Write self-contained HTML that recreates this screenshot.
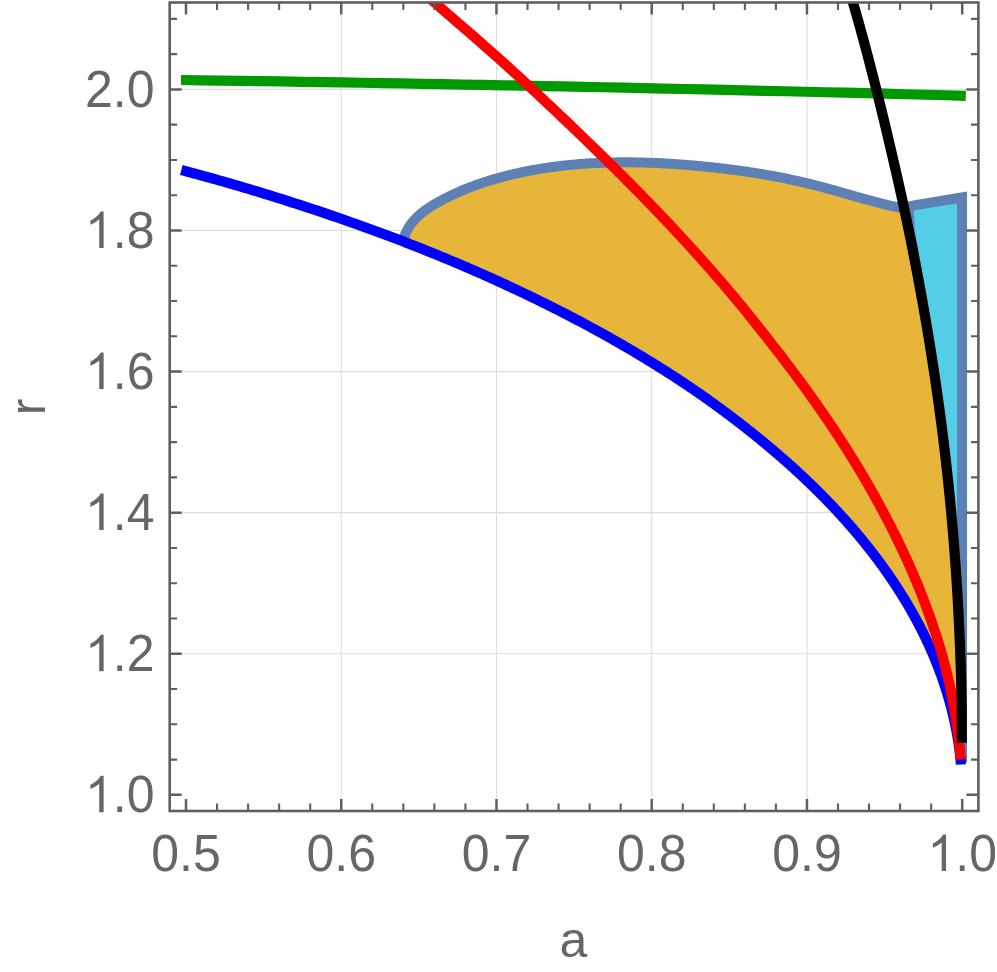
<!DOCTYPE html>
<html><head><meta charset="utf-8"><title>plot</title>
<style>
html,body{margin:0;padding:0;background:#fff}
body{width:997px;height:972px;position:relative;overflow:hidden;font-family:"Liberation Sans",sans-serif;color:#666}
svg text{font-family:"Liberation Sans",sans-serif}
</style></head><body>
<svg width="997" height="972" viewBox="0 0 997 972" style="position:absolute;left:0;top:0">
<defs><clipPath id="c"><rect x="169.7" y="2.5" width="808.7" height="808.5"/></clipPath></defs>
<rect width="997" height="972" fill="#fff"/>
<line x1="341.24" y1="2.5" x2="341.24" y2="811.0" stroke="#dedede" stroke-width="1.1"/>
<line x1="496.48" y1="2.5" x2="496.48" y2="811.0" stroke="#dedede" stroke-width="1.1"/>
<line x1="651.72" y1="2.5" x2="651.72" y2="811.0" stroke="#dedede" stroke-width="1.1"/>
<line x1="806.96" y1="2.5" x2="806.96" y2="811.0" stroke="#dedede" stroke-width="1.1"/>
<line x1="169.7" y1="653.76" x2="978.4" y2="653.76" stroke="#dedede" stroke-width="1.1"/>
<line x1="169.7" y1="512.67" x2="978.4" y2="512.67" stroke="#dedede" stroke-width="1.1"/>
<line x1="169.7" y1="371.58" x2="978.4" y2="371.58" stroke="#dedede" stroke-width="1.1"/>
<line x1="169.7" y1="230.49" x2="978.4" y2="230.49" stroke="#dedede" stroke-width="1.1"/>
<line x1="169.7" y1="89.40" x2="978.4" y2="89.40" stroke="#dedede" stroke-width="1.1"/>
<g clip-path="url(#c)" fill="none" stroke-linejoin="round">
<polygon points="404.72,235.62 405.20,234.37 405.70,233.14 406.24,231.94 406.82,230.77 407.42,229.61 408.05,228.49 408.71,227.38 409.40,226.30 410.12,225.24 410.86,224.20 411.63,223.18 412.42,222.19 413.24,221.21 414.08,220.25 414.94,219.31 415.82,218.39 416.72,217.49 417.63,216.60 418.57,215.73 419.52,214.88 420.49,214.04 421.48,213.22 422.48,212.41 423.50,211.62 424.52,210.84 425.57,210.07 426.62,209.32 427.69,208.58 428.77,207.85 429.86,207.14 430.95,206.43 432.06,205.74 433.18,205.06 434.30,204.38 435.43,203.72 436.57,203.07 437.71,202.42 438.85,201.78 440.00,201.15 441.16,200.52 442.31,199.91 443.47,199.30 444.63,198.69 445.80,198.10 446.97,197.51 448.14,196.92 449.31,196.34 450.49,195.77 451.66,195.21 452.84,194.65 454.03,194.10 455.21,193.55 456.40,193.01 457.59,192.48 458.78,191.95 459.98,191.43 461.18,190.91 462.38,190.40 463.58,189.90 464.78,189.40 465.99,188.91 467.20,188.43 468.41,187.95 469.62,187.47 470.84,187.01 472.05,186.54 473.27,186.09 474.49,185.64 475.71,185.19 476.94,184.75 478.17,184.32 479.39,183.89 480.62,183.46 481.85,183.05 483.09,182.63 484.32,182.22 485.56,181.82 486.80,181.42 488.04,181.03 489.28,180.65 490.52,180.26 491.77,179.89 493.01,179.51 494.26,179.15 495.51,178.79 496.76,178.43 498.01,178.08 499.26,177.73 500.52,177.39 501.77,177.05 503.03,176.71 504.29,176.39 505.55,176.06 506.81,175.74 508.07,175.43 509.33,175.12 510.59,174.81 511.85,174.51 513.12,174.21 514.38,173.92 515.65,173.63 516.92,173.34 518.19,173.06 519.45,172.78 520.72,172.51 521.99,172.24 523.27,171.98 524.54,171.72 525.81,171.46 527.08,171.21 528.36,170.96 529.63,170.72 530.90,170.48 532.18,170.24 533.46,170.01 534.73,169.78 536.01,169.55 537.29,169.33 538.57,169.11 539.85,168.90 541.13,168.69 542.41,168.48 543.69,168.28 544.97,168.08 546.25,167.89 547.53,167.70 548.82,167.51 550.10,167.32 551.38,167.14 552.67,166.97 553.95,166.79 555.24,166.62 556.53,166.46 557.81,166.30 559.10,166.14 560.39,165.98 561.68,165.83 562.97,165.68 564.25,165.54 565.54,165.40 566.83,165.26 568.12,165.12 569.42,164.99 570.71,164.87 572.00,164.74 573.29,164.62 574.58,164.50 575.88,164.39 577.17,164.28 578.46,164.17 579.76,164.06 581.05,163.96 582.35,163.87 583.64,163.77 584.94,163.68 586.23,163.59 587.53,163.51 588.83,163.42 590.12,163.34 591.42,163.27 592.72,163.20 594.01,163.13 595.31,163.06 596.61,163.00 597.91,162.93 599.21,162.88 600.51,162.82 601.80,162.77 603.10,162.72 604.40,162.68 605.70,162.63 607.00,162.59 608.30,162.56 609.60,162.52 610.90,162.49 612.21,162.46 613.51,162.43 614.81,162.41 616.11,162.39 617.41,162.37 618.71,162.36 620.01,162.35 621.32,162.34 622.62,162.33 623.92,162.33 625.22,162.33 626.52,162.33 627.83,162.33 629.13,162.34 630.43,162.35 631.73,162.36 633.04,162.37 634.34,162.39 635.64,162.41 636.95,162.43 638.25,162.45 639.55,162.48 640.85,162.51 642.16,162.54 643.46,162.57 644.76,162.61 646.07,162.65 647.37,162.69 648.67,162.73 649.97,162.78 651.28,162.82 652.58,162.88 653.88,162.93 655.18,162.98 656.49,163.04 657.79,163.10 659.09,163.16 660.39,163.22 661.70,163.29 663.00,163.36 664.30,163.43 665.60,163.50 666.90,163.57 668.21,163.65 669.51,163.73 670.81,163.81 672.11,163.89 673.41,163.97 674.71,164.06 676.01,164.15 677.31,164.24 678.61,164.33 679.91,164.42 681.21,164.52 682.51,164.62 683.81,164.71 685.11,164.82 686.41,164.92 687.71,165.02 689.01,165.13 690.30,165.24 691.60,165.35 692.90,165.46 694.20,165.58 695.49,165.69 696.79,165.81 698.09,165.93 699.38,166.05 700.68,166.17 701.97,166.29 703.27,166.42 704.56,166.55 705.86,166.67 707.15,166.80 708.45,166.94 709.74,167.07 711.03,167.21 712.32,167.34 713.62,167.48 714.91,167.62 716.20,167.76 717.49,167.91 718.78,168.06 720.07,168.20 721.36,168.35 722.65,168.50 723.94,168.66 725.23,168.81 726.52,168.97 727.81,169.13 729.10,169.29 730.39,169.45 731.67,169.62 732.96,169.78 734.25,169.95 735.53,170.12 736.82,170.30 738.11,170.47 739.39,170.65 740.68,170.83 741.96,171.01 743.25,171.19 744.53,171.37 745.81,171.56 747.10,171.75 748.38,171.94 749.66,172.13 750.94,172.33 752.23,172.53 753.51,172.73 754.79,172.93 756.07,173.13 757.35,173.34 758.63,173.55 759.91,173.76 761.19,173.97 762.47,174.19 763.74,174.40 765.02,174.62 766.30,174.85 767.58,175.07 768.85,175.30 770.13,175.53 771.40,175.76 772.68,175.99 773.96,176.23 775.23,176.46 776.50,176.71 777.78,176.95 779.05,177.19 780.33,177.44 781.60,177.69 782.87,177.95 784.14,178.20 785.41,178.46 786.69,178.72 787.96,178.98 789.23,179.25 790.50,179.52 791.77,179.79 793.03,180.06 794.30,180.34 795.57,180.62 796.84,180.90 798.11,181.18 799.37,181.47 800.64,181.76 801.91,182.05 803.17,182.34 804.44,182.64 805.70,182.94 806.97,183.24 808.23,183.55 809.50,183.85 810.76,184.16 812.02,184.48 813.28,184.79 814.55,185.11 815.81,185.43 817.07,185.76 818.33,186.09 819.59,186.42 820.85,186.75 822.11,187.08 823.37,187.42 824.63,187.76 825.89,188.10 827.14,188.44 828.40,188.79 829.66,189.13 830.92,189.48 832.17,189.83 833.43,190.18 834.69,190.53 835.94,190.88 837.20,191.24 838.45,191.59 839.71,191.95 840.96,192.31 842.22,192.66 843.47,193.02 844.73,193.38 845.98,193.73 847.24,194.09 848.49,194.45 849.75,194.81 851.00,195.17 852.25,195.52 853.51,195.88 854.76,196.24 856.01,196.59 857.27,196.95 858.52,197.30 859.77,197.66 861.03,198.01 862.28,198.36 863.53,198.71 864.79,199.06 866.04,199.41 867.29,199.75 868.55,200.10 869.80,200.44 871.06,200.78 872.31,201.12 873.56,201.45 874.82,201.79 876.07,202.12 877.32,202.45 878.58,202.78 879.83,203.10 881.09,203.42 882.34,203.74 883.60,204.05 884.85,204.37 886.11,204.68 887.36,204.98 888.62,205.28 889.87,205.58 891.13,205.88 892.39,206.17 893.64,206.46 894.90,206.74 896.16,207.02 903.00,208.00 908.05,209.89 908.35,211.33 908.60,212.77 908.81,214.21 908.97,215.65 909.11,217.08 909.22,218.52 909.32,219.95 909.40,221.39 909.48,222.82 909.56,224.25 909.65,225.68 909.75,227.11 909.87,228.54 910.02,229.97 910.21,231.39 910.42,232.82 910.65,234.25 910.88,235.67 911.12,237.09 911.35,238.51 911.60,239.94 911.84,241.36 912.08,242.78 912.33,244.19 912.57,245.61 912.82,247.03 913.06,248.44 913.30,249.86 913.54,251.27 913.77,252.68 914.00,254.10 914.23,255.51 914.45,256.92 914.68,258.33 914.91,259.73 915.14,261.14 915.38,262.55 915.62,263.95 915.86,265.36 916.10,266.76 916.34,268.16 916.59,269.56 916.83,270.96 917.08,272.36 917.34,273.76 917.60,275.16 917.87,276.55 918.13,277.95 918.39,279.34 918.65,280.74 918.91,282.13 919.17,283.52 919.43,284.91 919.68,286.30 919.94,287.69 920.19,289.08 920.45,290.47 920.70,291.85 920.95,293.24 921.21,294.62 921.46,296.00 921.71,297.39 921.96,298.77 922.20,300.15 922.45,301.53 922.70,302.91 922.94,304.28 923.19,305.66 923.43,307.03 923.67,308.41 923.91,309.78 924.15,311.16 924.39,312.53 924.63,313.90 924.87,315.27 925.11,316.64 925.35,318.00 925.58,319.37 925.81,320.74 926.05,322.10 926.28,323.47 926.51,324.83 926.74,326.19 926.97,327.55 927.20,328.91 927.43,330.27 927.66,331.63 927.89,332.99 928.11,334.35 928.34,335.70 928.56,337.06 928.78,338.41 929.01,339.76 929.23,341.11 929.45,342.46 929.67,343.81 929.89,345.16 930.10,346.51 930.32,347.86 930.54,349.20 930.75,350.55 930.97,351.89 931.18,353.24 931.39,354.58 931.60,355.92 931.81,357.26 932.02,358.60 932.23,359.94 932.44,361.28 932.65,362.61 932.86,363.95 933.06,365.28 933.27,366.62 933.47,367.95 933.67,369.28 933.87,370.61 934.08,371.94 934.28,373.27 934.48,374.60 934.68,375.93 934.87,377.25 935.07,378.58 935.27,379.90 935.46,381.22 935.66,382.55 935.85,383.87 936.04,385.19 936.23,386.51 936.43,387.83 936.62,389.14 936.80,390.46 936.99,391.78 937.18,393.09 937.37,394.40 937.55,395.72 937.74,397.03 937.92,398.34 938.11,399.65 938.29,400.96 938.47,402.26 938.65,403.57 938.83,404.88 939.01,406.18 939.19,407.49 939.37,408.79 939.54,410.09 939.72,411.39 939.90,412.69 940.07,413.99 940.24,415.29 940.42,416.59 940.59,417.88 940.76,419.18 940.93,420.47 941.10,421.77 941.27,423.06 941.43,424.35 941.60,425.64 941.77,426.93 941.93,428.22 942.10,429.51 942.26,430.79 942.42,432.08 942.59,433.36 942.75,434.65 942.91,435.93 943.07,437.21 943.22,438.49 943.38,439.77 943.54,441.05 943.70,442.33 943.85,443.61 944.01,444.88 944.16,446.16 944.31,447.43 944.47,448.70 944.62,449.98 944.77,451.25 944.92,452.52 945.07,453.79 945.21,455.05 945.36,456.32 945.51,457.59 945.65,458.85 945.80,460.12 945.94,461.38 946.09,462.64 946.23,463.90 946.37,465.16 946.51,466.42 946.65,467.68 946.79,468.94 946.93,470.19 947.07,471.45 947.21,472.70 947.34,473.95 947.48,475.21 947.61,476.46 947.75,477.71 947.88,478.96 948.01,480.20 948.15,481.45 948.28,482.70 948.41,483.94 948.54,485.19 948.66,486.43 948.79,487.67 948.92,488.91 949.05,490.15 949.17,491.39 949.30,492.63 949.42,493.87 949.54,495.10 949.67,496.34 949.79,497.57 949.91,498.80 950.03,500.03 950.15,501.26 950.27,502.49 950.39,503.72 950.50,504.95 950.62,506.18 950.74,507.40 950.85,508.62 950.97,509.85 951.08,511.07 951.19,512.29 951.31,513.51 951.42,514.73 951.53,515.95 951.64,517.16 951.75,518.38 951.86,519.59 951.97,520.81 952.07,522.02 952.18,523.23 952.29,524.44 952.39,525.65 952.50,526.86 952.60,528.07 952.71,529.27 952.81,530.48 952.91,531.68 953.01,532.88 953.11,534.08 953.21,535.28 953.31,536.48 953.41,537.68 953.51,538.88 953.61,540.07 953.70,541.27 953.80,542.46 953.89,543.65 953.99,544.84 954.08,546.03 954.18,547.22 954.27,548.41 954.36,549.59 954.45,550.78 954.54,551.96 954.63,553.14 954.72,554.32 954.81,555.50 954.90,556.68 954.99,557.86 955.07,559.04 955.16,560.21 955.24,561.38 955.33,562.56 955.41,563.73 955.50,564.90 955.58,566.07 955.66,567.23 955.74,568.40 955.82,569.56 955.90,570.73 955.98,571.89 956.06,573.05 956.14,574.21 956.22,575.37 956.30,576.52 956.37,577.68 956.45,578.83 956.52,579.98 956.60,581.13 956.67,582.28 956.74,583.43 956.82,584.58 956.89,585.72 956.96,586.86 957.03,588.01 957.10,589.15 957.17,590.29 957.24,591.42 957.31,592.56 957.37,593.69 957.44,594.82 957.51,595.96 957.57,597.08 957.64,598.21 957.70,599.34 957.77,600.46 957.83,601.58 957.89,602.71 957.96,603.82 958.02,604.94 958.08,606.06 958.14,607.17 958.20,608.28 958.26,609.39 958.32,610.50 958.38,611.61 958.43,612.71 958.49,613.81 958.55,614.91 958.61,616.01 958.66,617.11 958.72,618.20 958.77,619.30 958.83,620.39 958.88,621.47 958.93,622.56 958.99,623.64 959.04,624.72 959.09,625.80 959.14,626.88 959.19,627.95 959.24,629.03 959.29,630.10 959.34,631.16 959.39,632.23 959.44,633.29 959.48,634.35 959.53,635.40 959.58,636.46 959.62,637.51 959.67,638.56 959.71,639.60 959.76,640.65 959.80,641.69 959.84,642.72 959.89,643.76 959.93,644.79 959.97,645.82 960.01,646.84 960.05,647.86 960.09,648.88 960.13,649.89 960.17,650.90 960.21,651.91 960.24,652.91 960.28,653.91 960.32,654.91 960.35,655.90 960.39,656.89 960.42,657.87 960.46,658.85 960.49,659.83 960.53,660.80 960.56,661.77 960.59,662.73 960.62,663.69 960.66,664.64 960.69,665.59 960.72,666.53 960.75,667.47 960.78,668.40 960.80,669.33 960.83,670.25 960.86,671.17 960.89,672.08 960.91,672.98 960.94,673.88 960.97,674.78 960.99,675.66 961.01,676.54 961.04,677.42 961.06,678.29 961.09,679.15 961.11,680.00 961.13,680.85 961.15,681.68 961.17,682.52 961.19,683.34 961.21,684.16 961.23,684.96 961.25,685.76 961.27,686.55 961.29,687.34 961.31,688.11 961.33,688.88 961.34,689.63 961.36,690.38 961.38,691.11 961.39,691.84 961.41,692.56 961.42,693.26 961.44,693.96 961.45,694.64 961.46,695.32 961.48,695.98 961.49,696.63 961.50,697.27 961.51,697.90 961.52,698.52 961.54,699.13 961.55,699.72 961.56,700.30 961.57,700.86 961.58,701.42 961.59,701.96 961.60,702.49 961.60,703.00 961.61,703.50 961.62,703.99 961.63,704.46 961.64,704.92 961.64,705.37 961.65,705.80 961.66,706.21 961.66,706.61 961.67,707.00 961.68,707.37 961.68,707.73 961.69,708.07 961.69,708.40 961.70,708.72 961.70,709.01 961.71,709.30 961.71,709.57 961.71,709.82 961.72,710.06 961.72,710.29 961.72,710.50 961.73,710.70 961.73,710.89 961.73,711.06 961.73,711.22 961.74,711.36 961.74,711.50 961.74,711.62 961.74,711.73 961.74,711.82 961.74,711.91 961.75,711.98 961.75,712.05 961.75,712.10 961.75,712.15 961.75,712.18 961.75,712.21 961.75,712.23 961.75,712.25 961.75,712.26 961.75,712.26 961.75,712.26 961.75,742.80 961.50,760.00 960.90,764.50 960.72,761.43 960.70,761.20 960.67,760.95 960.65,760.69 960.62,760.42 960.59,760.12 960.56,759.82 960.53,759.50 960.50,759.17 960.46,758.82 960.42,758.46 960.39,758.08 960.34,757.69 960.30,757.29 960.26,756.87 960.21,756.44 960.16,756.00 960.11,755.54 960.06,755.07 960.00,754.59 959.94,754.10 959.89,753.60 959.82,753.08 959.76,752.56 959.69,752.02 959.63,751.47 959.56,750.91 959.48,750.34 959.41,749.76 959.33,749.17 959.25,748.57 959.17,747.96 959.08,747.35 959.00,746.72 958.91,746.08 958.82,745.44 958.72,744.79 958.63,744.13 958.53,743.46 958.42,742.78 958.32,742.10 958.21,741.40 958.10,740.70 957.99,740.00 957.88,739.28 957.76,738.56 957.64,737.84 957.51,737.10 957.39,736.36 957.26,735.61 957.13,734.86 956.99,734.10 956.86,733.34 956.72,732.57 956.58,731.79 956.43,731.01 956.28,730.22 956.13,729.43 955.98,728.63 955.82,727.83 955.66,727.02 955.49,726.21 955.33,725.39 955.16,724.57 954.99,723.74 954.81,722.91 954.63,722.08 954.45,721.24 954.27,720.39 954.08,719.54 953.89,718.69 953.69,717.83 953.50,716.97 953.29,716.11 953.09,715.24 952.88,714.36 952.67,713.49 952.46,712.61 952.24,711.72 952.02,710.83 951.80,709.94 951.57,709.05 951.34,708.15 951.11,707.25 950.87,706.34 950.63,705.44 950.39,704.52 950.14,703.61 949.89,702.69 949.63,701.77 949.38,700.85 949.11,699.92 948.85,698.99 948.58,698.06 948.31,697.12 948.03,696.18 947.75,695.24 947.47,694.30 947.19,693.35 946.90,692.40 946.60,691.45 946.30,690.49 946.00,689.53 945.70,688.57 945.39,687.61 945.08,686.65 944.76,685.68 944.44,684.71 944.12,683.73 943.79,682.76 943.46,681.78 943.13,680.80 942.79,679.82 942.45,678.84 942.10,677.85 941.75,676.86 941.40,675.87 941.04,674.87 940.68,673.88 940.31,672.88 939.94,671.88 939.57,670.88 939.19,669.87 938.81,668.87 938.42,667.86 938.03,666.85 937.64,665.84 937.24,664.82 936.84,663.81 936.44,662.79 936.03,661.77 935.61,660.75 935.19,659.72 934.77,658.70 934.35,657.67 933.92,656.64 933.48,655.61 933.04,654.57 932.60,653.54 932.15,652.50 931.70,651.46 931.25,650.42 930.79,649.38 930.32,648.34 929.85,647.29 929.38,646.25 928.90,645.20 928.42,644.15 927.94,643.10 927.45,642.04 926.95,640.99 926.46,639.93 925.95,638.87 925.44,637.81 924.93,636.75 924.42,635.69 923.90,634.63 923.37,633.56 922.84,632.49 922.31,631.42 921.77,630.35 921.23,629.28 920.68,628.21 920.13,627.14 919.57,626.06 919.01,624.98 918.45,623.91 917.88,622.83 917.30,621.74 916.72,620.66 916.14,619.58 915.55,618.49 914.96,617.41 914.36,616.32 913.76,615.23 913.15,614.14 912.54,613.05 911.93,611.96 911.31,610.86 910.68,609.77 910.05,608.67 909.41,607.57 908.78,606.48 908.13,605.38 907.48,604.28 906.83,603.17 906.17,602.07 905.51,600.97 904.84,599.86 904.16,598.75 903.49,597.65 902.80,596.54 902.12,595.43 901.42,594.32 900.73,593.21 900.02,592.09 899.32,590.98 898.61,589.86 897.89,588.75 897.17,587.63 896.44,586.51 895.71,585.40 894.97,584.28 894.23,583.16 893.48,582.03 892.73,580.91 891.98,579.79 891.21,578.66 890.45,577.54 889.68,576.41 888.90,575.28 888.12,574.16 887.33,573.03 886.54,571.90 885.74,570.77 884.94,569.64 884.13,568.50 883.32,567.37 882.50,566.24 881.68,565.10 880.85,563.97 880.02,562.83 879.18,561.69 878.34,560.55 877.49,559.42 876.64,558.28 875.78,557.14 874.91,556.00 874.04,554.85 873.17,553.71 872.29,552.57 871.40,551.42 870.51,550.28 869.62,549.14 868.72,547.99 867.81,546.84 866.90,545.70 865.98,544.55 865.06,543.40 864.13,542.25 863.20,541.10 862.26,539.95 861.31,538.80 860.37,537.65 859.41,536.50 858.45,535.34 857.49,534.19 856.51,533.04 855.54,531.88 854.56,530.73 853.57,529.57 852.58,528.42 851.58,527.26 850.57,526.10 849.56,524.95 848.55,523.79 847.53,522.63 846.50,521.47 845.47,520.31 844.43,519.15 843.39,517.99 842.34,516.83 841.29,515.67 840.23,514.51 839.16,513.35 838.09,512.18 837.02,511.02 835.94,509.86 834.85,508.69 833.75,507.53 832.66,506.37 831.55,505.20 830.44,504.04 829.33,502.87 828.20,501.71 827.08,500.54 825.94,499.37 824.80,498.21 823.66,497.04 822.51,495.87 821.35,494.70 820.19,493.54 819.02,492.37 817.85,491.20 816.67,490.03 815.49,488.86 814.29,487.69 813.10,486.52 811.89,485.35 810.69,484.18 809.47,483.01 808.25,481.84 807.03,480.67 805.79,479.50 804.56,478.33 803.31,477.16 802.06,475.99 800.81,474.82 799.55,473.65 798.28,472.47 797.00,471.30 795.72,470.13 794.44,468.96 793.15,467.79 791.85,466.61 790.55,465.44 789.24,464.27 787.92,463.10 786.60,461.92 785.27,460.75 783.94,459.58 782.60,458.41 781.25,457.23 779.90,456.06 778.55,454.89 777.18,453.71 775.81,452.54 774.44,451.37 773.05,450.19 771.66,449.01 770.27,447.84 768.87,446.66 767.46,445.48 766.05,444.31 764.63,443.13 763.21,441.95 761.77,440.77 760.34,439.59 758.89,438.41 757.44,437.23 755.99,436.05 754.52,434.87 753.05,433.69 751.58,432.51 750.10,431.33 748.61,430.14 747.12,428.96 745.62,427.78 744.11,426.60 742.60,425.42 741.08,424.23 739.55,423.05 738.02,421.87 736.48,420.69 734.94,419.50 733.39,418.32 731.83,417.14 730.27,415.96 728.70,414.78 727.12,413.59 725.54,412.41 723.95,411.23 722.35,410.05 720.75,408.87 719.14,407.69 717.53,406.51 715.90,405.33 714.28,404.15 712.64,402.97 711.00,401.79 709.35,400.61 707.70,399.44 706.04,398.26 704.37,397.08 702.70,395.91 701.02,394.73 699.33,393.56 697.64,392.39 695.94,391.22 694.23,390.04 692.52,388.87 690.80,387.70 689.08,386.54 687.34,385.37 685.61,384.20 683.86,383.04 682.11,381.87 680.35,380.71 678.58,379.55 676.81,378.39 675.03,377.23 673.25,376.07 671.45,374.91 669.66,373.75 667.85,372.59 666.04,371.43 664.22,370.28 662.39,369.12 660.56,367.97 658.72,366.81 656.87,365.66 655.02,364.50 653.16,363.35 651.30,362.20 649.42,361.05 647.54,359.90 645.66,358.75 643.76,357.60 641.86,356.45 639.96,355.30 638.04,354.16 636.12,353.01 634.20,351.86 632.26,350.72 630.32,349.58 628.37,348.43 626.42,347.29 624.45,346.15 622.49,345.01 620.51,343.87 618.53,342.73 616.54,341.59 614.54,340.45 612.54,339.32 610.53,338.18 608.51,337.04 606.49,335.91 604.46,334.78 602.42,333.64 600.37,332.51 598.32,331.38 596.26,330.25 594.20,329.12 592.12,328.00 590.04,326.87 587.96,325.74 585.86,324.62 583.76,323.49 581.65,322.37 579.54,321.24 577.42,320.12 575.29,319.00 573.15,317.88 571.01,316.76 568.86,315.65 566.70,314.53 564.54,313.41 562.36,312.30 560.18,311.18 558.00,310.07 555.80,308.96 553.60,307.85 551.40,306.74 549.18,305.63 546.96,304.52 544.73,303.41 542.49,302.30 540.25,301.20 538.00,300.09 535.74,298.99 533.48,297.89 531.21,296.79 528.93,295.69 526.64,294.59 524.35,293.49 522.04,292.39 519.74,291.30 517.42,290.20 515.10,289.11 512.77,288.02 510.43,286.92 508.08,285.83 505.73,284.75 503.37,283.66 501.00,282.57 498.63,281.49 496.25,280.40 493.86,279.32 491.46,278.24 489.06,277.16 486.65,276.08 484.23,275.00 481.80,273.93 479.37,272.85 476.93,271.78 474.48,270.71 472.03,269.64 469.56,268.57 467.09,267.50 464.62,266.44 462.13,265.37 459.64,264.31 457.14,263.25 454.63,262.19 452.12,261.13 449.59,260.08 447.06,259.02 444.53,257.97 441.98,256.92 439.43,255.87 436.87,254.82 434.30,253.78 431.73,252.74 429.14,251.69 426.55,250.65 423.96,249.61 421.35,248.58 418.74,247.54 416.12,246.51 413.49,245.47 410.85,244.44 408.21,243.42 405.56,242.39" fill="#e7b53a"/>
<polygon points="903.00,208.00 913.95,205.30 957.20,198.20 962.05,197.40 962.05,760.00 961.75,742.80 961.75,712.26 961.75,712.26 961.75,712.26 961.75,712.25 961.75,712.23 961.75,712.21 961.75,712.18 961.75,712.15 961.75,712.10 961.75,712.05 961.75,711.98 961.74,711.91 961.74,711.82 961.74,711.73 961.74,711.62 961.74,711.50 961.74,711.36 961.73,711.22 961.73,711.06 961.73,710.89 961.73,710.70 961.72,710.50 961.72,710.29 961.72,710.06 961.71,709.82 961.71,709.57 961.71,709.30 961.70,709.01 961.70,708.72 961.69,708.40 961.69,708.07 961.68,707.73 961.68,707.37 961.67,707.00 961.66,706.61 961.66,706.21 961.65,705.80 961.64,705.37 961.64,704.92 961.63,704.46 961.62,703.99 961.61,703.50 961.60,703.00 961.60,702.49 961.59,701.96 961.58,701.42 961.57,700.86 961.56,700.30 961.55,699.72 961.54,699.13 961.52,698.52 961.51,697.90 961.50,697.27 961.49,696.63 961.48,695.98 961.46,695.32 961.45,694.64 961.44,693.96 961.42,693.26 961.41,692.56 961.39,691.84 961.38,691.11 961.36,690.38 961.34,689.63 961.33,688.88 961.31,688.11 961.29,687.34 961.27,686.55 961.25,685.76 961.23,684.96 961.21,684.16 961.19,683.34 961.17,682.52 961.15,681.68 961.13,680.85 961.11,680.00 961.09,679.15 961.06,678.29 961.04,677.42 961.01,676.54 960.99,675.66 960.97,674.78 960.94,673.88 960.91,672.98 960.89,672.08 960.86,671.17 960.83,670.25 960.80,669.33 960.78,668.40 960.75,667.47 960.72,666.53 960.69,665.59 960.66,664.64 960.62,663.69 960.59,662.73 960.56,661.77 960.53,660.80 960.49,659.83 960.46,658.85 960.42,657.87 960.39,656.89 960.35,655.90 960.32,654.91 960.28,653.91 960.24,652.91 960.21,651.91 960.17,650.90 960.13,649.89 960.09,648.88 960.05,647.86 960.01,646.84 959.97,645.82 959.93,644.79 959.89,643.76 959.84,642.72 959.80,641.69 959.76,640.65 959.71,639.60 959.67,638.56 959.62,637.51 959.58,636.46 959.53,635.40 959.48,634.35 959.44,633.29 959.39,632.23 959.34,631.16 959.29,630.10 959.24,629.03 959.19,627.95 959.14,626.88 959.09,625.80 959.04,624.72 958.99,623.64 958.93,622.56 958.88,621.47 958.83,620.39 958.77,619.30 958.72,618.20 958.66,617.11 958.61,616.01 958.55,614.91 958.49,613.81 958.43,612.71 958.38,611.61 958.32,610.50 958.26,609.39 958.20,608.28 958.14,607.17 958.08,606.06 958.02,604.94 957.96,603.82 957.89,602.71 957.83,601.58 957.77,600.46 957.70,599.34 957.64,598.21 957.57,597.08 957.51,595.96 957.44,594.82 957.37,593.69 957.31,592.56 957.24,591.42 957.17,590.29 957.10,589.15 957.03,588.01 956.96,586.86 956.89,585.72 956.82,584.58 956.74,583.43 956.67,582.28 956.60,581.13 956.52,579.98 956.45,578.83 956.37,577.68 956.30,576.52 956.22,575.37 956.14,574.21 956.06,573.05 955.98,571.89 955.90,570.73 955.82,569.56 955.74,568.40 955.66,567.23 955.58,566.07 955.50,564.90 955.41,563.73 955.33,562.56 955.24,561.38 955.16,560.21 955.07,559.04 954.99,557.86 954.90,556.68 954.81,555.50 954.72,554.32 954.63,553.14 954.54,551.96 954.45,550.78 954.36,549.59 954.27,548.41 954.18,547.22 954.08,546.03 953.99,544.84 953.89,543.65 953.80,542.46 953.70,541.27 953.61,540.07 953.51,538.88 953.41,537.68 953.31,536.48 953.21,535.28 953.11,534.08 953.01,532.88 952.91,531.68 952.81,530.48 952.71,529.27 952.60,528.07 952.50,526.86 952.39,525.65 952.29,524.44 952.18,523.23 952.07,522.02 951.97,520.81 951.86,519.59 951.75,518.38 951.64,517.16 951.53,515.95 951.42,514.73 951.31,513.51 951.19,512.29 951.08,511.07 950.97,509.85 950.85,508.62 950.74,507.40 950.62,506.18 950.50,504.95 950.39,503.72 950.27,502.49 950.15,501.26 950.03,500.03 949.91,498.80 949.79,497.57 949.67,496.34 949.54,495.10 949.42,493.87 949.30,492.63 949.17,491.39 949.05,490.15 948.92,488.91 948.79,487.67 948.66,486.43 948.54,485.19 948.41,483.94 948.28,482.70 948.15,481.45 948.01,480.20 947.88,478.96 947.75,477.71 947.61,476.46 947.48,475.21 947.34,473.95 947.21,472.70 947.07,471.45 946.93,470.19 946.79,468.94 946.65,467.68 946.51,466.42 946.37,465.16 946.23,463.90 946.09,462.64 945.94,461.38 945.80,460.12 945.65,458.85 945.51,457.59 945.36,456.32 945.21,455.05 945.07,453.79 944.92,452.52 944.77,451.25 944.62,449.98 944.47,448.70 944.31,447.43 944.16,446.16 944.01,444.88 943.85,443.61 943.70,442.33 943.54,441.05 943.38,439.77 943.22,438.49 943.07,437.21 942.91,435.93 942.75,434.65 942.59,433.36 942.42,432.08 942.26,430.79 942.10,429.51 941.93,428.22 941.77,426.93 941.60,425.64 941.43,424.35 941.27,423.06 941.10,421.77 940.93,420.47 940.76,419.18 940.59,417.88 940.42,416.59 940.24,415.29 940.07,413.99 939.90,412.69 939.72,411.39 939.54,410.09 939.37,408.79 939.19,407.49 939.01,406.18 938.83,404.88 938.65,403.57 938.47,402.26 938.29,400.96 938.11,399.65 937.92,398.34 937.74,397.03 937.55,395.72 937.37,394.40 937.18,393.09 936.99,391.78 936.80,390.46 936.62,389.14 936.43,387.83 936.23,386.51 936.04,385.19 935.85,383.87 935.66,382.55 935.46,381.22 935.27,379.90 935.07,378.58 934.87,377.25 934.68,375.93 934.48,374.60 934.28,373.27 934.08,371.94 933.87,370.61 933.67,369.28 933.47,367.95 933.27,366.62 933.06,365.28 932.86,363.95 932.65,362.61 932.44,361.28 932.23,359.94 932.02,358.60 931.81,357.26 931.60,355.92 931.39,354.58 931.18,353.24 930.97,351.89 930.75,350.55 930.54,349.20 930.32,347.86 930.10,346.51 929.89,345.16 929.67,343.81 929.45,342.46 929.23,341.11 929.01,339.76 928.78,338.41 928.56,337.06 928.34,335.70 928.11,334.35 927.89,332.99 927.66,331.63 927.43,330.27 927.20,328.91 926.97,327.55 926.74,326.19 926.51,324.83 926.28,323.47 926.05,322.10 925.81,320.74 925.58,319.37 925.35,318.00 925.11,316.64 924.87,315.27 924.63,313.90 924.39,312.53 924.15,311.16 923.91,309.78 923.67,308.41 923.43,307.03 923.19,305.66 922.94,304.28 922.70,302.91 922.45,301.53 922.20,300.15 921.96,298.77 921.71,297.39 921.46,296.00 921.21,294.62 920.95,293.24 920.70,291.85 920.45,290.47 920.19,289.08 919.94,287.69 919.68,286.30 919.43,284.91 919.17,283.52 918.91,282.13 918.65,280.74 918.39,279.34 918.13,277.95 917.87,276.55 917.60,275.16 917.34,273.76 917.08,272.36 916.83,270.96 916.59,269.56 916.34,268.16 916.10,266.76 915.86,265.36 915.62,263.95 915.38,262.55 915.14,261.14 914.91,259.73 914.68,258.33 914.45,256.92 914.23,255.51 914.00,254.10 913.77,252.68 913.54,251.27 913.30,249.86 913.06,248.44 912.82,247.03 912.57,245.61 912.33,244.19 912.08,242.78 911.84,241.36 911.60,239.94 911.35,238.51 911.12,237.09 910.88,235.67 910.65,234.25 910.42,232.82 910.21,231.39 910.02,229.97 909.87,228.54 909.75,227.11 909.65,225.68 909.56,224.25 909.48,222.82 909.40,221.39 909.32,219.95 909.22,218.52 909.11,217.08 908.97,215.65 908.81,214.21 908.60,212.77 908.35,211.33 908.05,209.89" fill="#54cde6"/>
<polyline points="405.56,242.39 404.72,235.62 405.20,234.37 405.70,233.14 406.24,231.94 406.82,230.77 407.42,229.61 408.05,228.49 408.71,227.38 409.40,226.30 410.12,225.24 410.86,224.20 411.63,223.18 412.42,222.19 413.24,221.21 414.08,220.25 414.94,219.31 415.82,218.39 416.72,217.49 417.63,216.60 418.57,215.73 419.52,214.88 420.49,214.04 421.48,213.22 422.48,212.41 423.50,211.62 424.52,210.84 425.57,210.07 426.62,209.32 427.69,208.58 428.77,207.85 429.86,207.14 430.95,206.43 432.06,205.74 433.18,205.06 434.30,204.38 435.43,203.72 436.57,203.07 437.71,202.42 438.85,201.78 440.00,201.15 441.16,200.52 442.31,199.91 443.47,199.30 444.63,198.69 445.80,198.10 446.97,197.51 448.14,196.92 449.31,196.34 450.49,195.77 451.66,195.21 452.84,194.65 454.03,194.10 455.21,193.55 456.40,193.01 457.59,192.48 458.78,191.95 459.98,191.43 461.18,190.91 462.38,190.40 463.58,189.90 464.78,189.40 465.99,188.91 467.20,188.43 468.41,187.95 469.62,187.47 470.84,187.01 472.05,186.54 473.27,186.09 474.49,185.64 475.71,185.19 476.94,184.75 478.17,184.32 479.39,183.89 480.62,183.46 481.85,183.05 483.09,182.63 484.32,182.22 485.56,181.82 486.80,181.42 488.04,181.03 489.28,180.65 490.52,180.26 491.77,179.89 493.01,179.51 494.26,179.15 495.51,178.79 496.76,178.43 498.01,178.08 499.26,177.73 500.52,177.39 501.77,177.05 503.03,176.71 504.29,176.39 505.55,176.06 506.81,175.74 508.07,175.43 509.33,175.12 510.59,174.81 511.85,174.51 513.12,174.21 514.38,173.92 515.65,173.63 516.92,173.34 518.19,173.06 519.45,172.78 520.72,172.51 521.99,172.24 523.27,171.98 524.54,171.72 525.81,171.46 527.08,171.21 528.36,170.96 529.63,170.72 530.90,170.48 532.18,170.24 533.46,170.01 534.73,169.78 536.01,169.55 537.29,169.33 538.57,169.11 539.85,168.90 541.13,168.69 542.41,168.48 543.69,168.28 544.97,168.08 546.25,167.89 547.53,167.70 548.82,167.51 550.10,167.32 551.38,167.14 552.67,166.97 553.95,166.79 555.24,166.62 556.53,166.46 557.81,166.30 559.10,166.14 560.39,165.98 561.68,165.83 562.97,165.68 564.25,165.54 565.54,165.40 566.83,165.26 568.12,165.12 569.42,164.99 570.71,164.87 572.00,164.74 573.29,164.62 574.58,164.50 575.88,164.39 577.17,164.28 578.46,164.17 579.76,164.06 581.05,163.96 582.35,163.87 583.64,163.77 584.94,163.68 586.23,163.59 587.53,163.51 588.83,163.42 590.12,163.34 591.42,163.27 592.72,163.20 594.01,163.13 595.31,163.06 596.61,163.00 597.91,162.93 599.21,162.88 600.51,162.82 601.80,162.77 603.10,162.72 604.40,162.68 605.70,162.63 607.00,162.59 608.30,162.56 609.60,162.52 610.90,162.49 612.21,162.46 613.51,162.43 614.81,162.41 616.11,162.39 617.41,162.37 618.71,162.36 620.01,162.35 621.32,162.34 622.62,162.33 623.92,162.33 625.22,162.33 626.52,162.33 627.83,162.33 629.13,162.34 630.43,162.35 631.73,162.36 633.04,162.37 634.34,162.39 635.64,162.41 636.95,162.43 638.25,162.45 639.55,162.48 640.85,162.51 642.16,162.54 643.46,162.57 644.76,162.61 646.07,162.65 647.37,162.69 648.67,162.73 649.97,162.78 651.28,162.82 652.58,162.88 653.88,162.93 655.18,162.98 656.49,163.04 657.79,163.10 659.09,163.16 660.39,163.22 661.70,163.29 663.00,163.36 664.30,163.43 665.60,163.50 666.90,163.57 668.21,163.65 669.51,163.73 670.81,163.81 672.11,163.89 673.41,163.97 674.71,164.06 676.01,164.15 677.31,164.24 678.61,164.33 679.91,164.42 681.21,164.52 682.51,164.62 683.81,164.71 685.11,164.82 686.41,164.92 687.71,165.02 689.01,165.13 690.30,165.24 691.60,165.35 692.90,165.46 694.20,165.58 695.49,165.69 696.79,165.81 698.09,165.93 699.38,166.05 700.68,166.17 701.97,166.29 703.27,166.42 704.56,166.55 705.86,166.67 707.15,166.80 708.45,166.94 709.74,167.07 711.03,167.21 712.32,167.34 713.62,167.48 714.91,167.62 716.20,167.76 717.49,167.91 718.78,168.06 720.07,168.20 721.36,168.35 722.65,168.50 723.94,168.66 725.23,168.81 726.52,168.97 727.81,169.13 729.10,169.29 730.39,169.45 731.67,169.62 732.96,169.78 734.25,169.95 735.53,170.12 736.82,170.30 738.11,170.47 739.39,170.65 740.68,170.83 741.96,171.01 743.25,171.19 744.53,171.37 745.81,171.56 747.10,171.75 748.38,171.94 749.66,172.13 750.94,172.33 752.23,172.53 753.51,172.73 754.79,172.93 756.07,173.13 757.35,173.34 758.63,173.55 759.91,173.76 761.19,173.97 762.47,174.19 763.74,174.40 765.02,174.62 766.30,174.85 767.58,175.07 768.85,175.30 770.13,175.53 771.40,175.76 772.68,175.99 773.96,176.23 775.23,176.46 776.50,176.71 777.78,176.95 779.05,177.19 780.33,177.44 781.60,177.69 782.87,177.95 784.14,178.20 785.41,178.46 786.69,178.72 787.96,178.98 789.23,179.25 790.50,179.52 791.77,179.79 793.03,180.06 794.30,180.34 795.57,180.62 796.84,180.90 798.11,181.18 799.37,181.47 800.64,181.76 801.91,182.05 803.17,182.34 804.44,182.64 805.70,182.94 806.97,183.24 808.23,183.55 809.50,183.85 810.76,184.16 812.02,184.48 813.28,184.79 814.55,185.11 815.81,185.43 817.07,185.76 818.33,186.09 819.59,186.42 820.85,186.75 822.11,187.08 823.37,187.42 824.63,187.76 825.89,188.10 827.14,188.44 828.40,188.79 829.66,189.13 830.92,189.48 832.17,189.83 833.43,190.18 834.69,190.53 835.94,190.88 837.20,191.24 838.45,191.59 839.71,191.95 840.96,192.31 842.22,192.66 843.47,193.02 844.73,193.38 845.98,193.73 847.24,194.09 848.49,194.45 849.75,194.81 851.00,195.17 852.25,195.52 853.51,195.88 854.76,196.24 856.01,196.59 857.27,196.95 858.52,197.30 859.77,197.66 861.03,198.01 862.28,198.36 863.53,198.71 864.79,199.06 866.04,199.41 867.29,199.75 868.55,200.10 869.80,200.44 871.06,200.78 872.31,201.12 873.56,201.45 874.82,201.79 876.07,202.12 877.32,202.45 878.58,202.78 879.83,203.10 881.09,203.42 882.34,203.74 883.60,204.05 884.85,204.37 886.11,204.68 887.36,204.98 888.62,205.28 889.87,205.58 891.13,205.88 892.39,206.17 893.64,206.46 894.90,206.74 896.16,207.02 903.00,208.00 903.00,208.00 913.95,205.30 957.20,198.20 962.05,197.40 962.05,762.00" stroke="#5e81b5" stroke-width="10" stroke-linejoin="miter" stroke-miterlimit="10"/>
<polyline points="903.00,208.00 908.05,209.89 908.35,211.33 908.60,212.77 908.81,214.21 908.97,215.65 909.11,217.08 909.22,218.52 909.32,219.95 909.40,221.39 909.48,222.82 909.56,224.25 909.65,225.68 909.75,227.11 909.87,228.54 910.02,229.97 910.21,231.39 910.42,232.82 910.65,234.25 910.88,235.67 911.12,237.09 911.35,238.51 911.60,239.94 911.84,241.36 912.08,242.78 912.33,244.19 912.57,245.61 912.82,247.03 913.06,248.44 913.30,249.86 913.54,251.27 913.77,252.68 914.00,254.10 914.23,255.51 914.45,256.92 914.68,258.33 914.91,259.73 915.14,261.14 915.38,262.55 915.62,263.95 915.86,265.36 916.10,266.76 916.34,268.16 916.59,269.56 916.83,270.96 917.08,272.36 917.34,273.76 917.60,275.16 917.87,276.55 918.13,277.95 918.39,279.34 918.65,280.74 918.91,282.13 919.17,283.52 919.43,284.91 919.68,286.30 919.94,287.69 920.19,289.08 920.45,290.47 920.70,291.85 920.95,293.24 921.21,294.62 921.46,296.00 921.71,297.39 921.96,298.77" stroke="#5e81b5" stroke-width="10" stroke-linejoin="round"/>
<polyline points="181.00,80.00 201.12,80.28 221.25,80.57 241.37,80.86 261.49,81.16 281.62,81.47 301.74,81.78 321.86,82.10 341.98,82.43 362.11,82.76 382.23,83.10 402.35,83.45 422.48,83.80 442.60,84.16 462.72,84.53 482.85,84.90 502.97,85.28 523.09,85.67 543.22,86.06 563.34,86.46 583.46,86.86 603.58,87.27 623.71,87.69 643.83,88.12 663.95,88.55 684.08,88.99 704.20,89.43 724.32,89.88 744.45,90.34 764.57,90.80 784.69,91.27 804.82,91.75 824.94,92.23 845.06,92.72 865.18,93.22 885.31,93.72 905.43,94.23 925.55,94.75 945.68,95.27 965.80,95.80" stroke="#009900" stroke-width="10.2"/>
<polyline points="181.30,170.01 184.55,170.87 187.79,171.74 191.02,172.61 194.25,173.48 197.47,174.35 200.68,175.23 203.88,176.11 207.07,176.99 210.25,177.87 213.43,178.76 216.60,179.65 219.76,180.55 222.91,181.44 226.06,182.34 229.19,183.25 232.32,184.15 235.44,185.06 238.55,185.97 241.66,186.88 244.75,187.80 247.84,188.72 250.92,189.64 254.00,190.56 257.06,191.49 260.12,192.41 263.16,193.34 266.20,194.28 269.24,195.21 272.26,196.15 275.28,197.09 278.29,198.03 281.29,198.97 284.28,199.92 287.26,200.87 290.24,201.82 293.21,202.77 296.17,203.73 299.12,204.68 302.07,205.64 305.01,206.60 307.93,207.56 310.86,208.53 313.77,209.50 316.68,210.46 319.57,211.43 322.46,212.41 325.35,213.38 328.22,214.36 331.09,215.33 333.95,216.31 336.80,217.29 339.64,218.27 342.48,219.26 345.30,220.24 348.12,221.23 350.94,222.22 353.74,223.21 356.54,224.21 359.33,225.20 362.11,226.20 364.88,227.20 367.65,228.20 370.40,229.20 373.15,230.20 375.90,231.21 378.63,232.22 381.36,233.23 384.08,234.24 386.79,235.25 389.50,236.26 392.19,237.28 394.88,238.30 397.56,239.32 400.24,240.34 402.90,241.36 405.56,242.39 408.21,243.42 410.85,244.44 413.49,245.47 416.12,246.51 418.74,247.54 421.35,248.58 423.96,249.61 426.55,250.65 429.14,251.69 431.73,252.74 434.30,253.78 436.87,254.82 439.43,255.87 441.98,256.92 444.53,257.97 447.06,259.02 449.59,260.08 452.12,261.13 454.63,262.19 457.14,263.25 459.64,264.31 462.13,265.37 464.62,266.44 467.09,267.50 469.56,268.57 472.03,269.64 474.48,270.71 476.93,271.78 479.37,272.85 481.80,273.93 484.23,275.00 486.65,276.08 489.06,277.16 491.46,278.24 493.86,279.32 496.25,280.40 498.63,281.49 501.00,282.57 503.37,283.66 505.73,284.75 508.08,285.83 510.43,286.92 512.77,288.02 515.10,289.11 517.42,290.20 519.74,291.30 522.04,292.39 524.35,293.49 526.64,294.59 528.93,295.69 531.21,296.79 533.48,297.89 535.74,298.99 538.00,300.09 540.25,301.20 542.49,302.30 544.73,303.41 546.96,304.52 549.18,305.63 551.40,306.74 553.60,307.85 555.80,308.96 558.00,310.07 560.18,311.18 562.36,312.30 564.54,313.41 566.70,314.53 568.86,315.65 571.01,316.76 573.15,317.88 575.29,319.00 577.42,320.12 579.54,321.24 581.65,322.37 583.76,323.49 585.86,324.62 587.96,325.74 590.04,326.87 592.12,328.00 594.20,329.12 596.26,330.25 598.32,331.38 600.37,332.51 602.42,333.64 604.46,334.78 606.49,335.91 608.51,337.04 610.53,338.18 612.54,339.32 614.54,340.45 616.54,341.59 618.53,342.73 620.51,343.87 622.49,345.01 624.45,346.15 626.42,347.29 628.37,348.43 630.32,349.58 632.26,350.72 634.20,351.86 636.12,353.01 638.04,354.16 639.96,355.30 641.86,356.45 643.76,357.60 645.66,358.75 647.54,359.90 649.42,361.05 651.30,362.20 653.16,363.35 655.02,364.50 656.87,365.66 658.72,366.81 660.56,367.97 662.39,369.12 664.22,370.28 666.04,371.43 667.85,372.59 669.66,373.75 671.45,374.91 673.25,376.07 675.03,377.23 676.81,378.39 678.58,379.55 680.35,380.71 682.11,381.87 683.86,383.04 685.61,384.20 687.34,385.37 689.08,386.54 690.80,387.70 692.52,388.87 694.23,390.04 695.94,391.22 697.64,392.39 699.33,393.56 701.02,394.73 702.70,395.91 704.37,397.08 706.04,398.26 707.70,399.44 709.35,400.61 711.00,401.79 712.64,402.97 714.28,404.15 715.90,405.33 717.53,406.51 719.14,407.69 720.75,408.87 722.35,410.05 723.95,411.23 725.54,412.41 727.12,413.59 728.70,414.78 730.27,415.96 731.83,417.14 733.39,418.32 734.94,419.50 736.48,420.69 738.02,421.87 739.55,423.05 741.08,424.23 742.60,425.42 744.11,426.60 745.62,427.78 747.12,428.96 748.61,430.14 750.10,431.33 751.58,432.51 753.05,433.69 754.52,434.87 755.99,436.05 757.44,437.23 758.89,438.41 760.34,439.59 761.77,440.77 763.21,441.95 764.63,443.13 766.05,444.31 767.46,445.48 768.87,446.66 770.27,447.84 771.66,449.01 773.05,450.19 774.44,451.37 775.81,452.54 777.18,453.71 778.55,454.89 779.90,456.06 781.25,457.23 782.60,458.41 783.94,459.58 785.27,460.75 786.60,461.92 787.92,463.10 789.24,464.27 790.55,465.44 791.85,466.61 793.15,467.79 794.44,468.96 795.72,470.13 797.00,471.30 798.28,472.47 799.55,473.65 800.81,474.82 802.06,475.99 803.31,477.16 804.56,478.33 805.79,479.50 807.03,480.67 808.25,481.84 809.47,483.01 810.69,484.18 811.89,485.35 813.10,486.52 814.29,487.69 815.49,488.86 816.67,490.03 817.85,491.20 819.02,492.37 820.19,493.54 821.35,494.70 822.51,495.87 823.66,497.04 824.80,498.21 825.94,499.37 827.08,500.54 828.20,501.71 829.33,502.87 830.44,504.04 831.55,505.20 832.66,506.37 833.75,507.53 834.85,508.69 835.94,509.86 837.02,511.02 838.09,512.18 839.16,513.35 840.23,514.51 841.29,515.67 842.34,516.83 843.39,517.99 844.43,519.15 845.47,520.31 846.50,521.47 847.53,522.63 848.55,523.79 849.56,524.95 850.57,526.10 851.58,527.26 852.58,528.42 853.57,529.57 854.56,530.73 855.54,531.88 856.51,533.04 857.49,534.19 858.45,535.34 859.41,536.50 860.37,537.65 861.31,538.80 862.26,539.95 863.20,541.10 864.13,542.25 865.06,543.40 865.98,544.55 866.90,545.70 867.81,546.84 868.72,547.99 869.62,549.14 870.51,550.28 871.40,551.42 872.29,552.57 873.17,553.71 874.04,554.85 874.91,556.00 875.78,557.14 876.64,558.28 877.49,559.42 878.34,560.55 879.18,561.69 880.02,562.83 880.85,563.97 881.68,565.10 882.50,566.24 883.32,567.37 884.13,568.50 884.94,569.64 885.74,570.77 886.54,571.90 887.33,573.03 888.12,574.16 888.90,575.28 889.68,576.41 890.45,577.54 891.21,578.66 891.98,579.79 892.73,580.91 893.48,582.03 894.23,583.16 894.97,584.28 895.71,585.40 896.44,586.51 897.17,587.63 897.89,588.75 898.61,589.86 899.32,590.98 900.02,592.09 900.73,593.21 901.42,594.32 902.12,595.43 902.80,596.54 903.49,597.65 904.16,598.75 904.84,599.86 905.51,600.97 906.17,602.07 906.83,603.17 907.48,604.28 908.13,605.38 908.78,606.48 909.41,607.57 910.05,608.67 910.68,609.77 911.31,610.86 911.93,611.96 912.54,613.05 913.15,614.14 913.76,615.23 914.36,616.32 914.96,617.41 915.55,618.49 916.14,619.58 916.72,620.66 917.30,621.74 917.88,622.83 918.45,623.91 919.01,624.98 919.57,626.06 920.13,627.14 920.68,628.21 921.23,629.28 921.77,630.35 922.31,631.42 922.84,632.49 923.37,633.56 923.90,634.63 924.42,635.69 924.93,636.75 925.44,637.81 925.95,638.87 926.46,639.93 926.95,640.99 927.45,642.04 927.94,643.10 928.42,644.15 928.90,645.20 929.38,646.25 929.85,647.29 930.32,648.34 930.79,649.38 931.25,650.42 931.70,651.46 932.15,652.50 932.60,653.54 933.04,654.57 933.48,655.61 933.92,656.64 934.35,657.67 934.77,658.70 935.19,659.72 935.61,660.75 936.03,661.77 936.44,662.79 936.84,663.81 937.24,664.82 937.64,665.84 938.03,666.85 938.42,667.86 938.81,668.87 939.19,669.87 939.57,670.88 939.94,671.88 940.31,672.88 940.68,673.88 941.04,674.87 941.40,675.87 941.75,676.86 942.10,677.85 942.45,678.84 942.79,679.82 943.13,680.80 943.46,681.78 943.79,682.76 944.12,683.73 944.44,684.71 944.76,685.68 945.08,686.65 945.39,687.61 945.70,688.57 946.00,689.53 946.30,690.49 946.60,691.45 946.90,692.40 947.19,693.35 947.47,694.30 947.75,695.24 948.03,696.18 948.31,697.12 948.58,698.06 948.85,698.99 949.11,699.92 949.38,700.85 949.63,701.77 949.89,702.69 950.14,703.61 950.39,704.52 950.63,705.44 950.87,706.34 951.11,707.25 951.34,708.15 951.57,709.05 951.80,709.94 952.02,710.83 952.24,711.72 952.46,712.61 952.67,713.49 952.88,714.36 953.09,715.24 953.29,716.11 953.50,716.97 953.69,717.83 953.89,718.69 954.08,719.54 954.27,720.39 954.45,721.24 954.63,722.08 954.81,722.91 954.99,723.74 955.16,724.57 955.33,725.39 955.49,726.21 955.66,727.02 955.82,727.83 955.98,728.63 956.13,729.43 956.28,730.22 956.43,731.01 956.58,731.79 956.72,732.57 956.86,733.34 956.99,734.10 957.13,734.86 957.26,735.61 957.39,736.36 957.51,737.10 957.64,737.84 957.76,738.56 957.88,739.28 957.99,740.00 958.10,740.70 958.21,741.40 958.32,742.10 958.42,742.78 958.53,743.46 958.63,744.13 958.72,744.79 958.82,745.44 958.91,746.08 959.00,746.72 959.08,747.35 959.17,747.96 959.25,748.57 959.33,749.17 959.41,749.76 959.48,750.34 959.56,750.91 959.63,751.47 959.69,752.02 959.76,752.56 959.82,753.08 959.89,753.60 959.94,754.10 960.00,754.59 960.06,755.07 960.11,755.54 960.16,756.00 960.21,756.44 960.26,756.87 960.30,757.29 960.34,757.69 960.39,758.08 960.42,758.46 960.46,758.82 960.50,759.17 960.53,759.50 960.56,759.82 960.59,760.12 960.62,760.42 960.65,760.69 960.67,760.95 960.70,761.20 960.72,761.43 960.90,764.50" stroke="#0000ff" stroke-width="10.2"/>
<polyline points="429.50,-2.12 431.71,-0.15 433.92,1.82 436.12,3.79 438.32,5.75 440.54,7.71 442.77,9.67 445.00,11.62 447.24,13.57 449.49,15.52 451.74,17.46 454.00,19.40 456.25,21.34 458.50,23.27 460.75,25.20 462.99,27.13 465.23,29.05 467.46,30.97 469.67,32.89 471.88,34.80 474.07,36.71 476.25,38.62 478.41,40.52 480.57,42.42 482.72,44.32 484.86,46.22 487.01,48.11 489.14,49.99 491.27,51.88 493.40,53.76 495.52,55.64 497.63,57.51 499.73,59.38 501.82,61.25 503.91,63.12 505.98,64.98 508.05,66.84 510.10,68.70 512.14,70.55 514.17,72.40 516.19,74.25 518.20,76.09 520.19,77.93 522.18,79.77 524.15,81.61 526.13,83.44 528.09,85.27 530.06,87.10 532.01,88.92 533.97,90.74 535.91,92.56 537.85,94.38 539.79,96.19 541.72,98.00 543.64,99.80 545.56,101.61 547.48,103.41 549.39,105.21 551.29,107.00 553.19,108.79 555.08,110.58 556.97,112.37 558.85,114.16 560.73,115.94 562.60,117.72 564.47,119.49 566.33,121.26 568.19,123.04 570.04,124.80 571.88,126.57 573.73,128.33 575.56,130.09 577.39,131.85 579.22,133.60 581.04,135.36 582.85,137.10 584.66,138.85 586.47,140.60 588.27,142.34 590.06,144.08 591.85,145.81 593.63,147.55 595.41,149.28 597.18,151.01 598.95,152.73 600.72,154.46 602.47,156.18 604.23,157.90 605.97,159.61 607.72,161.33 609.45,163.04 611.19,164.75 612.91,166.46 614.64,168.16 616.35,169.86 618.07,171.56 619.77,173.26 621.47,174.95 623.16,176.65 624.85,178.34 626.53,180.02 628.21,181.71 629.88,183.39 631.54,185.07 633.20,186.75 634.85,188.42 636.49,190.10 638.13,191.77 639.77,193.44 641.39,195.10 643.02,196.77 644.63,198.43 646.24,200.09 647.85,201.75 649.45,203.40 651.04,205.06 652.63,206.71 654.22,208.36 655.79,210.00 657.37,211.65 658.93,213.29 660.50,214.93 662.05,216.57 663.60,218.20 665.15,219.84 666.69,221.47 668.22,223.10 669.75,224.72 671.28,226.35 672.80,227.97 674.31,229.59 675.82,231.21 677.33,232.83 678.83,234.44 680.32,236.05 681.81,237.66 683.29,239.27 684.77,240.88 686.25,242.48 687.72,244.08 689.18,245.68 690.64,247.28 692.10,248.88 693.55,250.47 694.99,252.06 696.43,253.65 697.86,255.24 699.29,256.83 700.71,258.41 702.12,259.99 703.53,261.57 704.93,263.15 706.32,264.72 707.71,266.30 709.10,267.87 710.48,269.44 711.85,271.01 713.22,272.58 714.58,274.14 715.94,275.70 717.29,277.26 718.63,278.82 719.97,280.38 721.31,281.93 722.64,283.49 723.97,285.04 725.29,286.59 726.61,288.14 727.92,289.68 729.22,291.23 730.53,292.77 731.82,294.31 733.12,295.85 734.41,297.38 735.69,298.92 736.97,300.45 738.25,301.98 739.51,303.51 740.78,305.04 742.03,306.56 743.28,308.09 744.52,309.61 745.76,311.13 746.99,312.65 748.22,314.17 749.44,315.68 750.66,317.20 751.87,318.71 753.07,320.22 754.28,321.73 755.48,323.23 756.67,324.74 757.86,326.24 759.05,327.74 760.23,329.24 761.41,330.74 762.59,332.24 763.76,333.73 764.93,335.22 766.10,336.71 767.26,338.20 768.42,339.69 769.58,341.18 770.74,342.66 771.90,344.14 773.05,345.63 774.20,347.11 775.36,348.58 776.51,350.06 777.65,351.53 778.79,353.01 779.93,354.48 781.07,355.95 782.20,357.42 783.32,358.88 784.44,360.35 785.56,361.81 786.68,363.27 787.78,364.73 788.89,366.19 789.99,367.65 791.09,369.10 792.18,370.56 793.27,372.01 794.35,373.46 795.43,374.91 796.51,376.35 797.58,377.80 798.65,379.24 799.71,380.69 800.77,382.13 801.83,383.57 802.88,385.01 803.93,386.44 804.97,387.88 806.01,389.31 807.04,390.74 808.08,392.17 809.10,393.60 810.13,395.03 811.14,396.45 812.16,397.88 813.17,399.30 814.18,400.72 815.18,402.14 816.18,403.56 817.17,404.97 818.16,406.39 819.15,407.80 820.13,409.21 821.11,410.62 822.09,412.03 823.06,413.44 824.02,414.85 824.99,416.25 825.95,417.65 826.90,419.05 827.85,420.45 828.80,421.85 829.74,423.25 830.68,424.64 831.61,426.04 832.55,427.43 833.47,428.82 834.40,430.21 835.32,431.60 836.23,432.99 837.14,434.37 838.05,435.75 838.95,437.14 839.85,438.52 840.75,439.90 841.64,441.27 842.53,442.65 843.41,444.02 844.29,445.40 845.17,446.77 846.04,448.14 846.91,449.51 847.77,450.88 848.63,452.24 849.48,453.61 850.34,454.97 851.18,456.33 852.03,457.69 852.87,459.05 853.70,460.41 854.53,461.76 855.36,463.12 856.19,464.47 857.01,465.82 857.82,467.17 858.63,468.52 859.44,469.86 860.25,471.21 861.05,472.55 861.84,473.90 862.64,475.24 863.42,476.58 864.21,477.92 864.99,479.25 865.77,480.59 866.54,481.92 867.31,483.25 868.08,484.58 868.84,485.91 869.60,487.24 870.35,488.57 871.10,489.89 871.85,491.22 872.59,492.54 873.33,493.86 874.07,495.18 874.80,496.50 875.53,497.81 876.26,499.13 876.98,500.44 877.69,501.75 878.41,503.06 879.12,504.37 879.83,505.68 880.53,506.98 881.24,508.29 881.93,509.59 882.63,510.89 883.32,512.19 884.01,513.49 884.70,514.79 885.38,516.08 886.06,517.38 886.73,518.67 887.41,519.96 888.08,521.25 888.74,522.54 889.41,523.83 890.07,525.11 890.72,526.40 891.37,527.68 892.02,528.96 892.67,530.24 893.31,531.51 893.95,532.79 894.59,534.07 895.22,535.34 895.85,536.61 896.48,537.88 897.10,539.15 897.72,540.42 898.34,541.68 898.95,542.94 899.56,544.21 900.17,545.47 900.77,546.73 901.37,547.98 901.97,549.24 902.56,550.50 903.15,551.75 903.73,553.00 904.32,554.25 904.90,555.50 905.47,556.74 906.04,557.99 906.61,559.23 907.18,560.47 907.74,561.72 908.30,562.95 908.85,564.19 909.41,565.43 909.96,566.66 910.50,567.89 911.04,569.12 911.58,570.35 912.12,571.58 912.65,572.81 913.17,574.03 913.70,575.25 914.22,576.47 914.74,577.69 915.25,578.91 915.76,580.12 916.27,581.34 916.78,582.55 917.28,583.76 917.77,584.97 918.27,586.18 918.76,587.38 919.24,588.59 919.73,589.79 920.21,590.99 920.68,592.19 921.16,593.39 921.63,594.58 922.09,595.77 922.56,596.97 923.01,598.16 923.47,599.34 923.92,600.53 924.37,601.71 924.82,602.90 925.26,604.08 925.70,605.26 926.14,606.43 926.58,607.61 927.01,608.78 927.44,609.95 927.87,611.12 928.29,612.29 928.71,613.46 929.13,614.62 929.55,615.78 929.96,616.94 930.37,618.10 930.78,619.26 931.18,620.41 931.58,621.56 931.98,622.71 932.37,623.86 932.76,625.01 933.15,626.15 933.54,627.30 933.92,628.44 934.30,629.57 934.68,630.71 935.05,631.84 935.42,632.98 935.79,634.11 936.15,635.23 936.52,636.36 936.87,637.48 937.23,638.61 937.58,639.72 937.93,640.84 938.28,641.96 938.62,643.07 938.96,644.18 939.29,645.29 939.63,646.39 939.96,647.50 940.29,648.60 940.61,649.70 940.93,650.79 941.25,651.89 941.56,652.98 941.87,654.07 942.18,655.16 942.49,656.24 942.79,657.32 943.09,658.40 943.38,659.48 943.68,660.55 943.97,661.63 944.25,662.70 944.54,663.76 944.82,664.83 945.09,665.89 945.37,666.95 945.64,668.01 945.90,669.06 946.17,670.11 946.43,671.16 946.69,672.20 946.94,673.25 947.19,674.29 947.44,675.32 947.68,676.36 947.93,677.39 948.16,678.42 948.40,679.44 948.63,680.47 948.86,681.49 949.09,682.50 949.31,683.52 949.53,684.53 949.75,685.53 949.97,686.54 950.18,687.54 950.39,688.53 950.60,689.53 950.81,690.52 951.01,691.51 951.21,692.49 951.41,693.47 951.61,694.45 951.80,695.42 951.99,696.39 952.18,697.35 952.37,698.32 952.55,699.27 952.73,700.23 952.91,701.18 953.09,702.13 953.26,703.07 953.44,704.01 953.61,704.94 953.77,705.87 953.94,706.80 954.10,707.72 954.26,708.64 954.42,709.55 954.57,710.46 954.72,711.37 954.87,712.27 955.02,713.16 955.17,714.05 955.31,714.94 955.45,715.82 955.59,716.69 955.73,717.56 955.86,718.43 956.00,719.29 956.13,720.15 956.25,721.00 956.38,721.84 956.50,722.68 956.63,723.51 956.75,724.34 956.86,725.16 956.98,725.98 957.09,726.79 957.20,727.59 957.31,728.39 957.42,729.18 957.52,729.96 957.62,730.74 957.73,731.51 957.82,732.27 957.92,733.03 958.02,733.78 958.11,734.52 958.20,735.26 958.29,735.99 958.37,736.71 958.46,737.42 958.54,738.12 958.62,738.82 958.70,739.51 958.78,740.19 958.86,740.86 958.93,741.52 959.00,742.17 959.07,742.82 959.14,743.45 959.21,744.08 959.27,744.69 959.34,745.30 959.40,745.90 959.46,746.48 959.52,747.06 959.57,747.62 959.63,748.18 959.68,748.72 959.73,749.26 959.78,749.78 959.83,750.29 959.88,750.79 959.92,751.28 959.96,751.75 960.01,752.22 960.05,752.67 960.09,753.11 960.12,753.54 960.16,753.95 960.20,754.36 960.23,754.75 960.26,755.12 960.29,755.49 960.32,755.84 960.35,756.18 960.70,759.40" stroke="#ff0000" stroke-width="10.2"/>
<polyline points="850.00,-7.59 850.47,-6.01 850.93,-4.43 851.39,-2.85 851.86,-1.27 852.32,0.30 852.78,1.88 853.24,3.45 853.69,5.03 854.15,6.60 854.60,8.17 855.06,9.74 855.51,11.31 855.95,12.88 856.40,14.44 856.84,16.01 857.29,17.57 857.73,19.14 858.17,20.70 858.61,22.26 859.04,23.82 859.48,25.38 859.91,26.94 860.34,28.50 860.77,30.06 861.20,31.61 861.62,33.17 862.05,34.72 862.47,36.28 862.89,37.83 863.31,39.38 863.73,40.93 864.15,42.48 864.57,44.03 864.98,45.58 865.39,47.12 865.80,48.67 866.22,50.21 866.62,51.76 867.03,53.30 867.44,54.84 867.84,56.38 868.25,57.92 868.65,59.46 869.05,61.00 869.45,62.54 869.85,64.07 870.25,65.61 870.65,67.14 871.04,68.67 871.44,70.20 871.83,71.74 872.23,73.27 872.62,74.79 873.01,76.32 873.40,77.85 873.79,79.38 874.18,80.90 874.56,82.43 874.95,83.95 875.33,85.47 875.72,86.99 876.10,88.51 876.48,90.03 876.87,91.55 877.25,93.07 877.63,94.58 878.01,96.10 878.38,97.61 878.76,99.13 879.14,100.64 879.51,102.15 879.89,103.66 880.26,105.17 880.63,106.68 881.00,108.19 881.37,109.69 881.74,111.20 882.10,112.70 882.47,114.21 882.83,115.71 883.19,117.21 883.56,118.71 883.92,120.21 884.27,121.71 884.63,123.21 884.99,124.71 885.35,126.20 885.70,127.70 886.06,129.19 886.41,130.69 886.76,132.18 887.11,133.67 887.47,135.16 887.82,136.65 888.17,138.14 888.51,139.63 888.86,141.11 889.21,142.60 889.56,144.08 889.91,145.57 890.25,147.05 890.60,148.53 890.95,150.01 891.29,151.49 891.64,152.97 891.98,154.45 892.33,155.92 892.67,157.40 893.02,158.87 893.36,160.35 893.70,161.82 894.05,163.29 894.39,164.76 894.73,166.23 895.07,167.70 895.40,169.17 895.74,170.64 896.08,172.10 896.41,173.57 896.75,175.03 897.08,176.50 897.41,177.96 897.74,179.42 898.07,180.88 898.40,182.34 898.73,183.80 899.06,185.26 899.38,186.71 899.71,188.17 900.03,189.62 900.35,191.08 900.67,192.53 901.00,193.98 901.31,195.43 901.63,196.88 901.95,198.33 902.27,199.78 902.58,201.23 902.90,202.67 903.21,204.12 903.52,205.56 903.83,207.01 904.14,208.45 904.45,209.89 904.76,211.33 905.07,212.77 905.38,214.21 905.68,215.65 905.98,217.08 906.29,218.52 906.59,219.95 906.89,221.39 907.19,222.82 907.49,224.25 907.79,225.68 908.09,227.11 908.38,228.54 908.68,229.97 908.97,231.39 909.26,232.82 909.56,234.25 909.85,235.67 910.14,237.09 910.43,238.51 910.72,239.94 911.00,241.36 911.29,242.78 911.57,244.19 911.86,245.61 912.14,247.03 912.42,248.44 912.70,249.86 912.98,251.27 913.26,252.68 913.54,254.10 913.82,255.51 914.10,256.92 914.37,258.33 914.65,259.73 914.92,261.14 915.19,262.55 915.46,263.95 915.73,265.36 916.00,266.76 916.27,268.16 916.54,269.56 916.81,270.96 917.07,272.36 917.34,273.76 917.60,275.16 917.87,276.55 918.13,277.95 918.39,279.34 918.65,280.74 918.91,282.13 919.17,283.52 919.43,284.91 919.68,286.30 919.94,287.69 920.19,289.08 920.45,290.47 920.70,291.85 920.95,293.24 921.21,294.62 921.46,296.00 921.71,297.39 921.96,298.77 922.20,300.15 922.45,301.53 922.70,302.91 922.94,304.28 923.19,305.66 923.43,307.03 923.67,308.41 923.91,309.78 924.15,311.16 924.39,312.53 924.63,313.90 924.87,315.27 925.11,316.64 925.35,318.00 925.58,319.37 925.81,320.74 926.05,322.10 926.28,323.47 926.51,324.83 926.74,326.19 926.97,327.55 927.20,328.91 927.43,330.27 927.66,331.63 927.89,332.99 928.11,334.35 928.34,335.70 928.56,337.06 928.78,338.41 929.01,339.76 929.23,341.11 929.45,342.46 929.67,343.81 929.89,345.16 930.10,346.51 930.32,347.86 930.54,349.20 930.75,350.55 930.97,351.89 931.18,353.24 931.39,354.58 931.60,355.92 931.81,357.26 932.02,358.60 932.23,359.94 932.44,361.28 932.65,362.61 932.86,363.95 933.06,365.28 933.27,366.62 933.47,367.95 933.67,369.28 933.87,370.61 934.08,371.94 934.28,373.27 934.48,374.60 934.68,375.93 934.87,377.25 935.07,378.58 935.27,379.90 935.46,381.22 935.66,382.55 935.85,383.87 936.04,385.19 936.23,386.51 936.43,387.83 936.62,389.14 936.80,390.46 936.99,391.78 937.18,393.09 937.37,394.40 937.55,395.72 937.74,397.03 937.92,398.34 938.11,399.65 938.29,400.96 938.47,402.26 938.65,403.57 938.83,404.88 939.01,406.18 939.19,407.49 939.37,408.79 939.54,410.09 939.72,411.39 939.90,412.69 940.07,413.99 940.24,415.29 940.42,416.59 940.59,417.88 940.76,419.18 940.93,420.47 941.10,421.77 941.27,423.06 941.43,424.35 941.60,425.64 941.77,426.93 941.93,428.22 942.10,429.51 942.26,430.79 942.42,432.08 942.59,433.36 942.75,434.65 942.91,435.93 943.07,437.21 943.22,438.49 943.38,439.77 943.54,441.05 943.70,442.33 943.85,443.61 944.01,444.88 944.16,446.16 944.31,447.43 944.47,448.70 944.62,449.98 944.77,451.25 944.92,452.52 945.07,453.79 945.21,455.05 945.36,456.32 945.51,457.59 945.65,458.85 945.80,460.12 945.94,461.38 946.09,462.64 946.23,463.90 946.37,465.16 946.51,466.42 946.65,467.68 946.79,468.94 946.93,470.19 947.07,471.45 947.21,472.70 947.34,473.95 947.48,475.21 947.61,476.46 947.75,477.71 947.88,478.96 948.01,480.20 948.15,481.45 948.28,482.70 948.41,483.94 948.54,485.19 948.66,486.43 948.79,487.67 948.92,488.91 949.05,490.15 949.17,491.39 949.30,492.63 949.42,493.87 949.54,495.10 949.67,496.34 949.79,497.57 949.91,498.80 950.03,500.03 950.15,501.26 950.27,502.49 950.39,503.72 950.50,504.95 950.62,506.18 950.74,507.40 950.85,508.62 950.97,509.85 951.08,511.07 951.19,512.29 951.31,513.51 951.42,514.73 951.53,515.95 951.64,517.16 951.75,518.38 951.86,519.59 951.97,520.81 952.07,522.02 952.18,523.23 952.29,524.44 952.39,525.65 952.50,526.86 952.60,528.07 952.71,529.27 952.81,530.48 952.91,531.68 953.01,532.88 953.11,534.08 953.21,535.28 953.31,536.48 953.41,537.68 953.51,538.88 953.61,540.07 953.70,541.27 953.80,542.46 953.89,543.65 953.99,544.84 954.08,546.03 954.18,547.22 954.27,548.41 954.36,549.59 954.45,550.78 954.54,551.96 954.63,553.14 954.72,554.32 954.81,555.50 954.90,556.68 954.99,557.86 955.07,559.04 955.16,560.21 955.24,561.38 955.33,562.56 955.41,563.73 955.50,564.90 955.58,566.07 955.66,567.23 955.74,568.40 955.82,569.56 955.90,570.73 955.98,571.89 956.06,573.05 956.14,574.21 956.22,575.37 956.30,576.52 956.37,577.68 956.45,578.83 956.52,579.98 956.60,581.13 956.67,582.28 956.74,583.43 956.82,584.58 956.89,585.72 956.96,586.86 957.03,588.01 957.10,589.15 957.17,590.29 957.24,591.42 957.31,592.56 957.37,593.69 957.44,594.82 957.51,595.96 957.57,597.08 957.64,598.21 957.70,599.34 957.77,600.46 957.83,601.58 957.89,602.71 957.96,603.82 958.02,604.94 958.08,606.06 958.14,607.17 958.20,608.28 958.26,609.39 958.32,610.50 958.38,611.61 958.43,612.71 958.49,613.81 958.55,614.91 958.61,616.01 958.66,617.11 958.72,618.20 958.77,619.30 958.83,620.39 958.88,621.47 958.93,622.56 958.99,623.64 959.04,624.72 959.09,625.80 959.14,626.88 959.19,627.95 959.24,629.03 959.29,630.10 959.34,631.16 959.39,632.23 959.44,633.29 959.48,634.35 959.53,635.40 959.58,636.46 959.62,637.51 959.67,638.56 959.71,639.60 959.76,640.65 959.80,641.69 959.84,642.72 959.89,643.76 959.93,644.79 959.97,645.82 960.01,646.84 960.05,647.86 960.09,648.88 960.13,649.89 960.17,650.90 960.21,651.91 960.24,652.91 960.28,653.91 960.32,654.91 960.35,655.90 960.39,656.89 960.42,657.87 960.46,658.85 960.49,659.83 960.53,660.80 960.56,661.77 960.59,662.73 960.62,663.69 960.66,664.64 960.69,665.59 960.72,666.53 960.75,667.47 960.78,668.40 960.80,669.33 960.83,670.25 960.86,671.17 960.89,672.08 960.91,672.98 960.94,673.88 960.97,674.78 960.99,675.66 961.01,676.54 961.04,677.42 961.06,678.29 961.09,679.15 961.11,680.00 961.13,680.85 961.15,681.68 961.17,682.52 961.19,683.34 961.21,684.16 961.23,684.96 961.25,685.76 961.27,686.55 961.29,687.34 961.31,688.11 961.33,688.88 961.34,689.63 961.36,690.38 961.38,691.11 961.39,691.84 961.41,692.56 961.42,693.26 961.44,693.96 961.45,694.64 961.46,695.32 961.48,695.98 961.49,696.63 961.50,697.27 961.51,697.90 961.52,698.52 961.54,699.13 961.55,699.72 961.56,700.30 961.57,700.86 961.58,701.42 961.59,701.96 961.60,702.49 961.60,703.00 961.61,703.50 961.62,703.99 961.63,704.46 961.64,704.92 961.64,705.37 961.65,705.80 961.66,706.21 961.66,706.61 961.67,707.00 961.68,707.37 961.68,707.73 961.69,708.07 961.69,708.40 961.70,708.72 961.70,709.01 961.71,709.30 961.71,709.57 961.71,709.82 961.72,710.06 961.72,710.29 961.72,710.50 961.73,710.70 961.73,710.89 961.73,711.06 961.73,711.22 961.74,711.36 961.74,711.50 961.74,711.62 961.74,711.73 961.74,711.82 961.74,711.91 961.75,711.98 961.75,712.05 961.75,712.10 961.75,712.15 961.75,712.18 961.75,712.21 961.75,712.23 961.75,712.25 961.75,712.26 961.75,712.26 961.75,712.26 961.75,742.80" stroke="#000000" stroke-width="10.2"/>
</g>
<path d="M186.00 811.0 v-12.0 M186.00 2.5 v12.0 M341.24 811.0 v-12.0 M341.24 2.5 v12.0 M496.48 811.0 v-12.0 M496.48 2.5 v12.0 M651.72 811.0 v-12.0 M651.72 2.5 v12.0 M806.96 811.0 v-12.0 M806.96 2.5 v12.0 M962.20 811.0 v-12.0 M962.20 2.5 v12.0 M169.7 794.85 h12.0 M978.4 794.85 h-12.0 M169.7 653.76 h12.0 M978.4 653.76 h-12.0 M169.7 512.67 h12.0 M978.4 512.67 h-12.0 M169.7 371.58 h12.0 M978.4 371.58 h-12.0 M169.7 230.49 h12.0 M978.4 230.49 h-12.0 M169.7 89.40 h12.0 M978.4 89.40 h-12.0" stroke="#5f5f5f" stroke-width="2.5" fill="none"/><path d="M217.05 811.0 v-7.4 M217.05 2.5 v7.4 M248.10 811.0 v-7.4 M248.10 2.5 v7.4 M279.14 811.0 v-7.4 M279.14 2.5 v7.4 M310.19 811.0 v-7.4 M310.19 2.5 v7.4 M372.29 811.0 v-7.4 M372.29 2.5 v7.4 M403.34 811.0 v-7.4 M403.34 2.5 v7.4 M434.38 811.0 v-7.4 M434.38 2.5 v7.4 M465.43 811.0 v-7.4 M465.43 2.5 v7.4 M527.53 811.0 v-7.4 M527.53 2.5 v7.4 M558.58 811.0 v-7.4 M558.58 2.5 v7.4 M589.62 811.0 v-7.4 M589.62 2.5 v7.4 M620.67 811.0 v-7.4 M620.67 2.5 v7.4 M682.77 811.0 v-7.4 M682.77 2.5 v7.4 M713.82 811.0 v-7.4 M713.82 2.5 v7.4 M744.86 811.0 v-7.4 M744.86 2.5 v7.4 M775.91 811.0 v-7.4 M775.91 2.5 v7.4 M838.01 811.0 v-7.4 M838.01 2.5 v7.4 M869.06 811.0 v-7.4 M869.06 2.5 v7.4 M900.10 811.0 v-7.4 M900.10 2.5 v7.4 M931.15 811.0 v-7.4 M931.15 2.5 v7.4 M169.7 759.58 h7.4 M978.4 759.58 h-7.4 M169.7 724.30 h7.4 M978.4 724.30 h-7.4 M169.7 689.03 h7.4 M978.4 689.03 h-7.4 M169.7 618.49 h7.4 M978.4 618.49 h-7.4 M169.7 583.21 h7.4 M978.4 583.21 h-7.4 M169.7 547.94 h7.4 M978.4 547.94 h-7.4 M169.7 477.40 h7.4 M978.4 477.40 h-7.4 M169.7 442.12 h7.4 M978.4 442.12 h-7.4 M169.7 406.85 h7.4 M978.4 406.85 h-7.4 M169.7 336.31 h7.4 M978.4 336.31 h-7.4 M169.7 301.03 h7.4 M978.4 301.03 h-7.4 M169.7 265.76 h7.4 M978.4 265.76 h-7.4 M169.7 195.22 h7.4 M978.4 195.22 h-7.4 M169.7 159.95 h7.4 M978.4 159.95 h-7.4 M169.7 124.67 h7.4 M978.4 124.67 h-7.4 M169.7 54.13 h7.4 M978.4 54.13 h-7.4 M169.7 18.85 h7.4 M978.4 18.85 h-7.4" stroke="#5f5f5f" stroke-width="2.1" fill="none"/>
<rect x="169.7" y="2.5" width="808.7" height="808.5" fill="none" stroke="#5f5f5f" stroke-width="2.6"/>
<g font-size="50" fill="#666"><g transform="translate(0,871.00) scale(1,1.02)"><text x="151.25" y="0">0.5</text></g>
<g transform="translate(0,871.00) scale(1,1.02)"><text x="306.49" y="0">0.6</text></g>
<g transform="translate(0,871.00) scale(1,1.02)"><text x="461.73" y="0">0.7</text></g>
<g transform="translate(0,871.00) scale(1,1.02)"><text x="616.97" y="0">0.8</text></g>
<g transform="translate(0,871.00) scale(1,1.02)"><text x="772.21" y="0">0.9</text></g>
<g transform="translate(0,871.00) scale(1,1.02)"><path transform="translate(927.45,0) scale(0.024414,-0.024414)" d="M763 0H583V1147Q518 1085 412.5 1023T223 930V1104Q373 1174.5 485 1275T644 1466H763Z" fill="#666"/><text x="955.26" y="0">.0</text></g>
<g transform="translate(0,812.25) scale(1,1.02)"><path transform="translate(85.00,0) scale(0.024414,-0.024414)" d="M763 0H583V1147Q518 1085 412.5 1023T223 930V1104Q373 1174.5 485 1275T644 1466H763Z" fill="#666"/><text x="112.81" y="0">.0</text></g>
<g transform="translate(0,671.16) scale(1,1.02)"><path transform="translate(85.00,0) scale(0.024414,-0.024414)" d="M763 0H583V1147Q518 1085 412.5 1023T223 930V1104Q373 1174.5 485 1275T644 1466H763Z" fill="#666"/><text x="112.81" y="0">.2</text></g>
<g transform="translate(0,530.07) scale(1,1.02)"><path transform="translate(85.00,0) scale(0.024414,-0.024414)" d="M763 0H583V1147Q518 1085 412.5 1023T223 930V1104Q373 1174.5 485 1275T644 1466H763Z" fill="#666"/><text x="112.81" y="0">.4</text></g>
<g transform="translate(0,388.98) scale(1,1.02)"><path transform="translate(85.00,0) scale(0.024414,-0.024414)" d="M763 0H583V1147Q518 1085 412.5 1023T223 930V1104Q373 1174.5 485 1275T644 1466H763Z" fill="#666"/><text x="112.81" y="0">.6</text></g>
<g transform="translate(0,247.89) scale(1,1.02)"><path transform="translate(85.00,0) scale(0.024414,-0.024414)" d="M763 0H583V1147Q518 1085 412.5 1023T223 930V1104Q373 1174.5 485 1275T644 1466H763Z" fill="#666"/><text x="112.81" y="0">.8</text></g>
<g transform="translate(0,106.80) scale(1,1.02)"><text x="85.00" y="0">2.0</text></g>
<text x="573.3" y="957.33" text-anchor="middle">a</text>
<text transform="translate(45.0,406.8) rotate(-90)" text-anchor="middle">r</text></g>
</svg>
</body></html>
